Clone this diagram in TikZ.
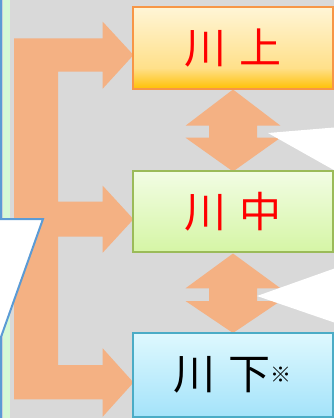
\documentclass[tikz,border=0pt]{standalone}
\usepackage{fontspec}
\newfontfamily\jp{Noto Sans CJK JP}
\definecolor{bg}{HTML}{D9D9D9}
\definecolor{arr}{HTML}{F4B183}
\definecolor{stripgreen}{HTML}{D5F9D5}
\definecolor{calloutblue}{HTML}{5B9BD5}
\definecolor{goldB}{HTML}{FFC000}
\definecolor{goldM}{HTML}{FFE08A}
\definecolor{goldT}{HTML}{FFF5D6}
\definecolor{goldline}{HTML}{F79646}
\definecolor{grnB}{HTML}{D5F5A5}
\definecolor{grnT}{HTML}{F2FDE4}
\definecolor{grnline}{HTML}{9BBB59}
\definecolor{bluB}{HTML}{A4E3FA}
\definecolor{bluT}{HTML}{DEF8FE}
\definecolor{bluline}{HTML}{4BACC6}
\pgfdeclareverticalshading{goldshade}{100bp}{color(0bp)=(goldB); color(25bp)=(goldB); color(38bp)=(goldM); color(75bp)=(goldT); color(100bp)=(goldT)}
\pgfdeclareverticalshading{grnshade}{100bp}{color(0bp)=(grnB); color(25bp)=(grnB); color(75bp)=(grnT); color(100bp)=(grnT)}
\pgfdeclareverticalshading{blushade}{100bp}{color(0bp)=(bluB); color(25bp)=(bluB); color(75bp)=(bluT); color(100bp)=(bluT)}
\tikzset{
  stagebox/.style={rectangle, inner sep=0pt, line width=1.8pt, minimum width=200.3pt,
    font=\jp\fontsize{42}{42}\selectfont},
  blockarrow/.style={fill=arr, draw=none},
  tailwedge/.style={fill=white, draw=none},
}
\begin{document}
\begin{tikzpicture}[x=1pt,y=-1pt]
\useasboundingbox (0,0) rectangle (334,418);
\clip (0,0) rectangle (334,418);
\fill[bg] (0,0) rectangle (334,418);
\fill[stripgreen] (2.5,-2) rectangle (10,420);
% E-shaped block arrow
\path[blockarrow] (14,38.3) -- (102.7,38.3) -- (102.7,21.7) -- (133.5,55) -- (102.7,88.7) -- (102.7,71.7)
  -- (58,71.7) -- (58,201.7) -- (102.7,201.7) -- (102.7,185.7) -- (133.5,219.2) -- (102.7,252.7) -- (102.7,236.7)
  -- (58,236.7) -- (58,365) -- (102.7,365) -- (102.7,348.3) -- (133.5,382.5) -- (102.7,416.7) -- (102.7,399.3)
  -- (14,399.3) -- cycle;
% double arrows
\path[blockarrow] (233,89.5) -- (280.5,125.7) -- (257,125.7) -- (257,137.7) -- (280.5,137.7) -- (233,171.5)
  -- (185.5,137.7) -- (209,137.7) -- (209,125.7) -- (185.5,125.7) -- cycle;
\path[blockarrow] (233,253.5) -- (280.5,288.3) -- (257,288.3) -- (257,301) -- (280.5,301) -- (233,333)
  -- (185.5,301) -- (209,301) -- (209,288.3) -- (185.5,288.3) -- cycle;
% boxes
\node[stagebox, shading=goldshade, draw=goldline, minimum height=82pt, text=red] (up) at (232.85,48.3) {川\hspace{13pt}上};
\node[stagebox, shading=grnshade, draw=grnline, minimum height=81.6pt, text=red] (mid) at (232.85,211.5) {川\hspace{13pt}中};
\node[stagebox, shading=blushade, draw=bluline, minimum height=83.4pt, text=black] (down) at (232.85,375) {川\hspace{13pt}下\raisebox{7pt}{\fontsize{21}{21}\selectfont ※}};
% callout tails from the right
\path[tailwedge] (268,133) -- (340,127) -- (340,173.5) -- cycle;
\path[tailwedge] (257,296) -- (340,266.5) -- (340,324.5) -- cycle;
% callout on the left
\fill[white] (-5,-5) -- (1,-5) -- (1,219) -- (43,219) -- (1,337) -- (1,423) -- (-5,423) -- cycle;
\draw[calloutblue, line width=2pt] (1,-5) -- (1,219) -- (43,219) -- (1,337) -- (1,423);
\end{tikzpicture}
\end{document}
